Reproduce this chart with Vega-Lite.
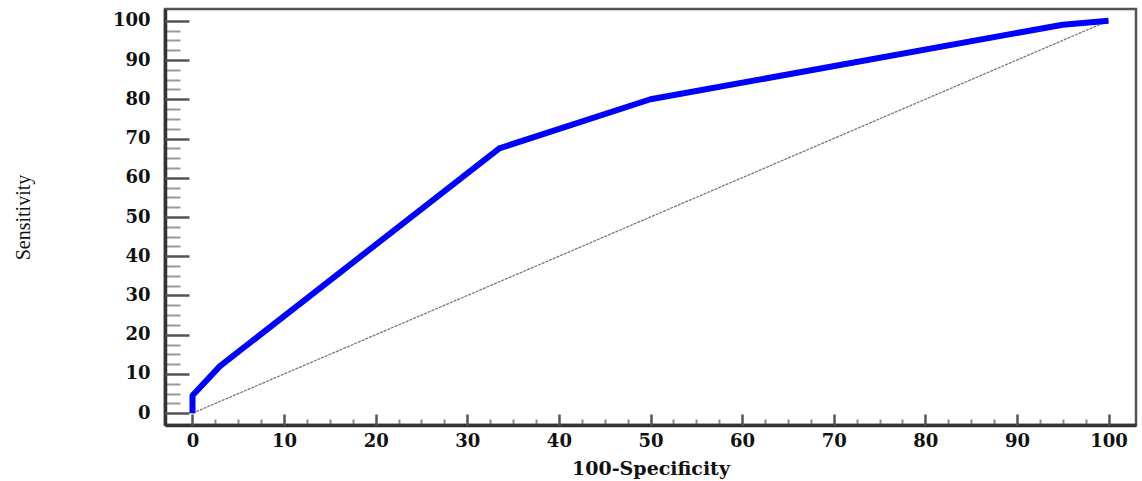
{
  "$schema": "https://vega.github.io/schema/vega-lite/v6.json",
  "width": 971,
  "height": 416,
  "autosize": {"type": "none"},
  "padding": {"left": 165, "top": 9, "right": 6, "bottom": 56},
  "background": "white",
  "config": {
    "view": {"stroke": "#555555", "strokeWidth": 2.5},
    "axis": {"grid": false}
  },
  "layer": [
    {
      "data": {"values": [{"fpr": 0, "tpr": 0}, {"fpr": 100, "tpr": 100}]},
      "mark": {"type": "line", "color": "#7a7a7a", "strokeWidth": 1.3, "strokeDash": [3, 1]},
      "encoding": {
        "x": {
          "field": "fpr", "type": "quantitative",
          "scale": {"domain": [-3, 103], "nice": false, "zero": false},
          "axis": {
            "orient": "bottom", "title": null, "labels": false,
            "values": [2.5,5,7.5,12.5,15,17.5,22.5,25,27.5,32.5,35,37.5,42.5,45,47.5,52.5,55,57.5,62.5,65,67.5,72.5,75,77.5,82.5,85,87.5,92.5,95,97.5],
            "tickSize": -6, "tickWidth": 2, "tickColor": "#8a8a8a",
            "domain": true, "domainColor": "#333333", "domainWidth": 3.5
          }
        },
        "y": {
          "field": "tpr", "type": "quantitative",
          "scale": {"domain": [-3, 103], "nice": false, "zero": false},
          "axis": {
            "orient": "left", "title": null, "labels": false,
            "values": [2.5,5,7.5,12.5,15,17.5,22.5,25,27.5,32.5,35,37.5,42.5,45,47.5,52.5,55,57.5,62.5,65,67.5,72.5,75,77.5,82.5,85,87.5,92.5,95,97.5],
            "tickSize": -15, "tickWidth": 2, "tickColor": "#9a9a9a",
            "domain": true, "domainColor": "#333333", "domainWidth": 3.5
          }
        }
      }
    },
    {
      "data": {"values": [
        {"fpr": 0, "tpr": 0},
        {"fpr": 0, "tpr": 4.5},
        {"fpr": 3, "tpr": 12},
        {"fpr": 33.5, "tpr": 67.5},
        {"fpr": 50, "tpr": 80},
        {"fpr": 95, "tpr": 99},
        {"fpr": 100, "tpr": 100}
      ]},
      "mark": {"type": "line", "color": "#0000ff", "strokeWidth": 6, "strokeJoin": "round"},
      "encoding": {
        "x": {
          "field": "fpr", "type": "quantitative",
          "scale": {"domain": [-3, 103], "nice": false, "zero": false},
          "axis": {
            "orient": "bottom", "title": "100-Specificity",
            "values": [0,10,20,30,40,50,60,70,80,90,100],
            "tickSize": -11, "tickWidth": 2.5, "tickColor": "#555555",
            "domain": false,
            "labelFont": "DejaVu Serif", "labelFontWeight": "bold", "labelFontSize": 18, "labelColor": "#111111",
            "labelPadding": 18,
            "titleFont": "DejaVu Serif", "titleFontWeight": "bold", "titleFontSize": 19, "titleColor": "#111111",
            "titlePadding": 9
          }
        },
        "y": {
          "field": "tpr", "type": "quantitative",
          "scale": {"domain": [-3, 103], "nice": false, "zero": false},
          "axis": {
            "orient": "left", "title": "Sensitivity",
            "values": [0,10,20,30,40,50,60,70,80,90,100],
            "tickSize": -24, "tickWidth": 2.5, "tickColor": "#555555",
            "domain": false,
            "labelFont": "DejaVu Serif", "labelFontWeight": "bold", "labelFontSize": 18, "labelColor": "#111111",
            "labelPadding": 39,
            "titleFont": "Liberation Serif", "titleFontWeight": "normal", "titleFontSize": 20, "titleColor": "#111111",
            "titleX": -132
          }
        }
      }
    }
  ],
  "resolve": {"axis": {"x": "independent", "y": "independent"}}
}
